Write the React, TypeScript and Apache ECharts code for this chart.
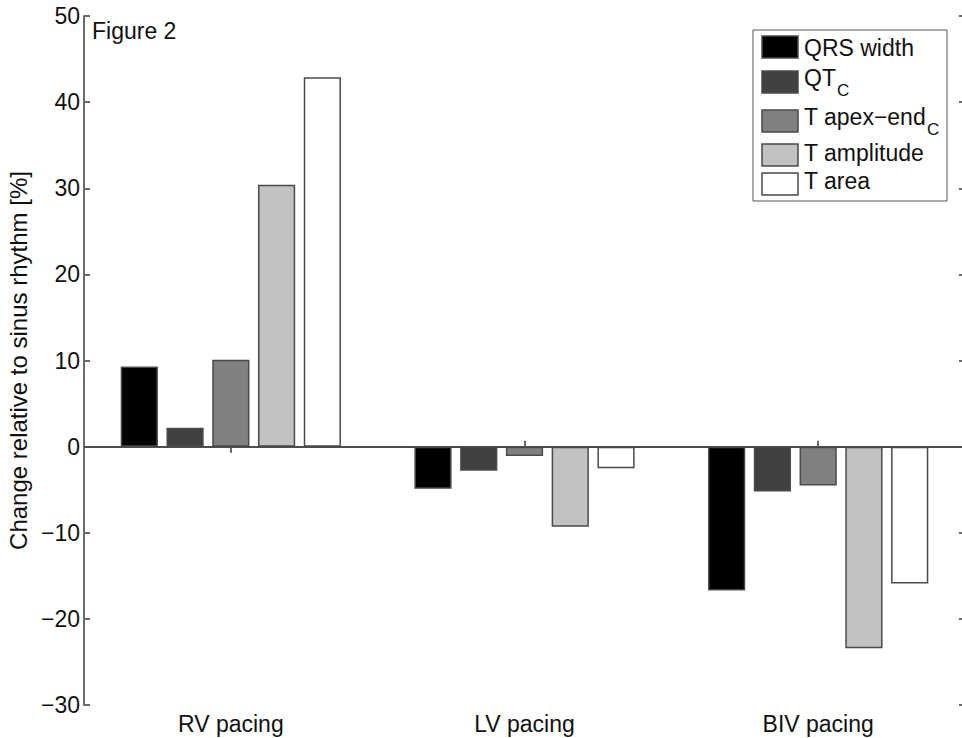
import React, { useEffect, useRef } from "react";
import * as echarts from "echarts";

const categories = ["RV pacing", "LV pacing", "BIV pacing"];
const seriesNames = ["QRS width", "QTc", "T apex-endc", "T amplitude", "T area"];
const qrsWidth = [9.3, -4.9, -16.7];
const qtc = [2.2, -2.8, -5.2];
const tApexEnd = [10.1, -1.1, -4.5];
const tAmplitude = [30.4, -9.3, -23.4];
const tArea = [42.9, -2.5, -15.9];
const seriesValues = [qrsWidth, qtc, tApexEnd, tAmplitude, tArea];
const seriesColors = ["#000000", "#404040", "#808080", "#c2c2c2", "#ffffff"];
// legend label: main text and subscript
const legendMain = ["QRS width", "QT", "T apex\u2212end", "T amplitude", "T area"];
const legendSub = ["", "C", "C", "", ""];

const FONT = "'Liberation Sans', Arial, Helvetica, sans-serif";
const LEG_FS = 23;
const SUB_FS = 17;

function measure(text: string, size: number): number {
  try {
    const c = document.createElement("canvas").getContext("2d");
    if (!c) return text.length * size * 0.55;
    c.font = `${size}px ${FONT}`;
    return c.measureText(text).width;
  } catch (e) {
    return text.length * size * 0.55;
  }
}

export default function App() {
  const ref = useRef<HTMLDivElement>(null);
  useEffect(() => {
    if (!ref.current) return;
    const chart = echarts.init(ref.current, undefined, { renderer: "svg" });
    const axisLineStyle = { color: "#6a6a6a", width: 2 };

    // legend drawn as graphic elements (layout positions only)
    const legX = 753;
    const legY = 30;
    const swTops = [36, 71, 110, 144, 173];
    const textCenters = [48, 78, 117, 152.5, 181];
    const legendChildren: any[] = [
      {
        type: "rect",
        shape: { x: legX, y: legY, width: 194, height: 171 },
        style: { fill: "#ffffff", stroke: "#555555", lineWidth: 1 },
      },
    ];
    seriesNames.forEach((_, i) => {
      legendChildren.push({
        type: "rect",
        shape: { x: 762, y: swTops[i], width: 36, height: 22 },
        style: { fill: seriesColors[i], stroke: "#4a4a4a", lineWidth: 1.5 },
      });
      legendChildren.push({
        type: "text",
        x: 804,
        y: textCenters[i],
        style: {
          text: legendMain[i],
          font: `${LEG_FS}px ${FONT}`,
          fill: "#111111",
          verticalAlign: "middle",
          align: "left",
        },
      });
      if (legendSub[i]) {
        const w = measure(legendMain[i], LEG_FS);
        legendChildren.push({
          type: "text",
          x: 804 + w + 1,
          y: textCenters[i] + 12.5,
          style: {
            text: legendSub[i],
            font: `${SUB_FS}px ${FONT}`,
            fill: "#111111",
            verticalAlign: "middle",
            align: "left",
          },
        });
      }
    });

    chart.setOption({
      animation: false,
      backgroundColor: "#ffffff",
      textStyle: { fontFamily: FONT },
      grid: {
        left: 84,
        top: 16,
        width: 881,
        height: 689,
        containLabel: false,
        outerBoundsMode: "none",
      },
      xAxis: [
        {
          type: "category",
          data: categories,
          position: "bottom",
          axisLine: { show: true, lineStyle: axisLineStyle },
          axisTick: { show: true, inside: true, alignWithLabel: true, length: 6, lineStyle: axisLineStyle },
          axisLabel: { fontFamily: FONT, fontSize: 23, color: "#111", margin: 7 },
          splitLine: { show: false },
        },
        {
          type: "category",
          data: categories,
          position: "top",
          axisLine: { show: true, lineStyle: axisLineStyle },
          axisTick: { show: true, inside: true, alignWithLabel: true, length: 6, lineStyle: axisLineStyle },
          axisLabel: { show: false },
          splitLine: { show: false },
        },
      ],
      yAxis: [
        {
          type: "value",
          min: -30,
          max: 50,
          interval: 10,
          position: "left",
          name: "Change relative to sinus rhythm [%]",
          nameLocation: "middle",
          nameGap: 54,
          nameTextStyle: { fontFamily: FONT, fontSize: 24, color: "#111" },
          axisLine: { show: true, lineStyle: axisLineStyle },
          axisTick: { show: true, inside: true, length: 6, lineStyle: axisLineStyle },
          axisLabel: {
            fontFamily: FONT,
            fontSize: 23,
            color: "#111",
            margin: 4,
            formatter: (v: number) => (v < 0 ? "\u2212" + Math.abs(v) : String(v)),
          },
          splitLine: { show: false },
        },
        {
          type: "value",
          min: -30,
          max: 50,
          interval: 10,
          position: "right",
          axisLine: { show: true, lineStyle: axisLineStyle },
          axisTick: { show: true, inside: true, length: 6, lineStyle: axisLineStyle },
          axisLabel: { show: false },
          splitLine: { show: false },
        },
      ],
      graphic: [
        {
          type: "text",
          x: 92,
          y: 30.5,
          style: {
            text: "Figure 2",
            font: `23px ${FONT}`,
            fill: "#111111",
            verticalAlign: "middle",
            align: "left",
          },
        },
        { type: "group", children: legendChildren },
      ],
      series: seriesNames.map((name, i) => ({
        name,
        type: "bar",
        xAxisIndex: 0,
        yAxisIndex: 0,
        data: seriesValues[i],
        barCategoryGap: "25%",
        barGap: "23%",
        itemStyle: { color: seriesColors[i], borderColor: "#4a4a4a", borderWidth: 1.5 },
        ...(i === 0
          ? {
              markLine: {
                silent: true,
                symbol: "none",
                label: { show: false },
                lineStyle: { color: "#444", width: 1.5, type: "solid" },
                data: [{ yAxis: 0 }],
              },
            }
          : {}),
      })),
    });
    return () => chart.dispose();
  }, []);
  return (
    <div
      ref={ref}
      style={{ position: "fixed", left: 0, top: 0, width: 962, height: 738, background: "#fff" }}
    />
  );
}
